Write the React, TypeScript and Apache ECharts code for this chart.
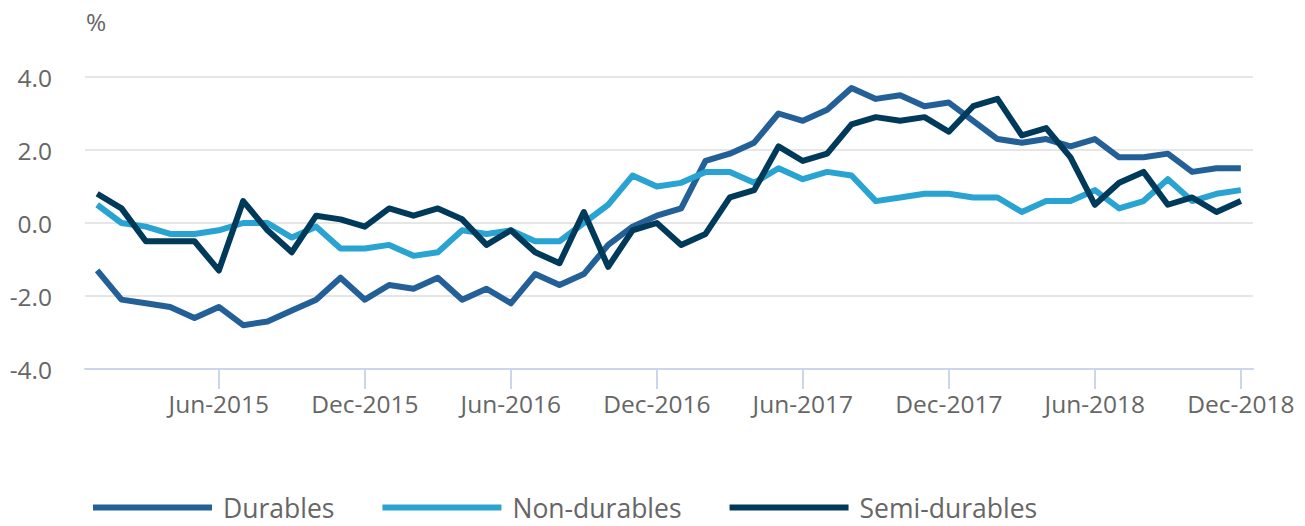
import React, { useEffect, useRef } from "react";
import * as echarts from "echarts";

const monthNames = ["Jan", "Feb", "Mar", "Apr", "May", "Jun", "Jul", "Aug", "Sep", "Oct", "Nov", "Dec"];
const years = [2015, 2016, 2017, 2018];
const categories = years.flatMap((y) => monthNames.map((m) => `${m}-${y}`));

const durables = [
  -1.3, -2.1, -2.2, -2.3, -2.6, -2.3, -2.8, -2.7, -2.4, -2.1, -1.5, -2.1,
  -1.7, -1.8, -1.5, -2.1, -1.8, -2.2, -1.4, -1.7, -1.4, -0.6, -0.1, 0.2,
  0.4, 1.7, 1.9, 2.2, 3.0, 2.8, 3.1, 3.7, 3.4, 3.5, 3.2, 3.3,
  2.8, 2.3, 2.2, 2.3, 2.1, 2.3, 1.8, 1.8, 1.9, 1.4, 1.5, 1.5,
];
const nonDurables = [
  0.5, 0.0, -0.1, -0.3, -0.3, -0.2, 0.0, 0.0, -0.4, -0.1, -0.7, -0.7,
  -0.6, -0.9, -0.8, -0.2, -0.3, -0.2, -0.5, -0.5, 0.0, 0.5, 1.3, 1.0,
  1.1, 1.4, 1.4, 1.1, 1.5, 1.2, 1.4, 1.3, 0.6, 0.7, 0.8, 0.8,
  0.7, 0.7, 0.3, 0.6, 0.6, 0.9, 0.4, 0.6, 1.2, 0.6, 0.8, 0.9,
];
const semiDurables = [
  0.8, 0.4, -0.5, -0.5, -0.5, -1.3, 0.6, -0.2, -0.8, 0.2, 0.1, -0.1,
  0.4, 0.2, 0.4, 0.1, -0.6, -0.2, -0.8, -1.1, 0.3, -1.2, -0.2, 0.0,
  -0.6, -0.3, 0.7, 0.9, 2.1, 1.7, 1.9, 2.7, 2.9, 2.8, 2.9, 2.5,
  3.2, 3.4, 2.4, 2.6, 1.8, 0.5, 1.1, 1.4, 0.5, 0.7, 0.3, 0.6,
];

const seriesNames = ["Durables", "Non-durables", "Semi-durables"];
const seriesColors = ["#236097", "#29a3d1", "#003a5a"];
const unitLabel = "%";

const FONT = "'Open Sans', 'Noto Sans', sans-serif";

export default function App() {
  const ref = useRef<HTMLDivElement>(null);

  useEffect(() => {
    document.body.style.margin = "0";
    if (!ref.current) return;
    const chart = echarts.init(ref.current, null, { renderer: "svg" });
    const showIdx = (i: number) => i % 6 === 5;
    const dataSets = [durables, nonDurables, semiDurables];
    chart.setOption({
      animation: false,
      backgroundColor: "#ffffff",
      textStyle: { fontFamily: FONT },
      grid: { left: 85, right: 52, top: 77, bottom: 157, containLabel: false },
      graphic: [
        {
          type: "text",
          left: 86,
          top: 9,
          style: { text: unitLabel, fontSize: 24.5, fontFamily: FONT, fill: "#666666" },
        },
      ],
      legend: {
        left: 93,
        top: 494,
        padding: 0,
        icon: "rect",
        itemWidth: 119,
        itemHeight: 6,
        itemGap: 48,
        selectedMode: false,
        textStyle: {
          fontSize: 26.5,
          color: "#666666",
          fontFamily: FONT,
          padding: [0, 0, 0, 6],
        },
        data: seriesNames,
      },
      xAxis: {
        type: "category",
        data: categories,
        boundaryGap: true,
        axisLine: { show: true, onZero: false, lineStyle: { color: "#ccd6eb", width: 2 } },
        axisTick: {
          show: true,
          alignWithLabel: true,
          interval: (i: number) => showIdx(i),
          length: 20,
          lineStyle: { color: "#ccd6eb", width: 2 },
        },
        axisLabel: {
          interval: (i: number) => showIdx(i),
          fontSize: 24.5,
          color: "#666666",
          fontFamily: FONT,
          margin: 22,
        },
        splitLine: { show: false },
      },
      yAxis: {
        type: "value",
        min: -4,
        max: 4,
        interval: 2,
        axisLine: { show: false },
        axisTick: { show: false },
        axisLabel: {
          fontSize: 24.5,
          color: "#666666",
          fontFamily: FONT,
          margin: 33,
          formatter: (v: number) => v.toFixed(1),
        },
        splitLine: { show: true, lineStyle: { color: "#e6e6e6", width: 2 } },
      },
      series: seriesNames.map((name, k) => ({
        name,
        type: "line",
        data: dataSets[k],
        color: seriesColors[k],
        symbol: "none",
        lineStyle: { width: 6, color: seriesColors[k], join: "round" },
      })),
    });
    return () => chart.dispose();
  }, []);

  return <div ref={ref} style={{ width: 1305, height: 526 }} />;
}
